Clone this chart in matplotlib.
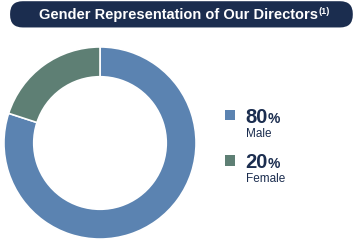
import matplotlib.pyplot as plt
from matplotlib.patches import FancyBboxPatch

labels = ["Male", "Female"]
values = [80, 20]
colors = ["#5b83b1", "#5e7f74"]
navy = "#1b2d4f"

fig = plt.figure(figsize=(3.6, 2.43), dpi=100)

# title bar
bar = FancyBboxPatch((0.028, 0.887), 0.952, 0.108, boxstyle="round,pad=0,rounding_size=0.035",
                     transform=fig.transFigure, facecolor=navy, edgecolor="none", mutation_aspect=1.48)
fig.patches.append(bar)
t = fig.text(0.108, 1 - 19 / 243, "Gender Representation of Our Directors", color="white",
             fontsize=10.5, fontweight="bold", ha="left", va="baseline", family="Liberation Sans")
fig.canvas.draw()
bb = t.get_window_extent()
fig.text(bb.x1 / 360 + 0.0005, 1 - 14 / 243, "(1)", color="white", fontsize=6.5, fontweight="bold",
         ha="left", va="baseline", family="Liberation Sans")

# donut
ax = fig.add_axes([3 / 360, 3 / 243, 194 / 360, 194 / 243])
ax.pie(values, colors=colors, startangle=90, counterclock=False,
       wedgeprops=dict(width=0.31, edgecolor="white", linewidth=1.2))
ax.set_xlim(-1.01, 1.01)
ax.set_ylim(-1.01, 1.01)
ax.set_aspect("equal")

# legend
ys = [1 - 115 / 243, 1 - 160.5 / 243]
for i in range(len(labels)):
    fig.patches.append(plt.Rectangle((0.625, ys[i] - 0.021), 0.028, 0.042, transform=fig.transFigure,
                                     facecolor=colors[i], edgecolor="none"))
    num = fig.text(0.681, ys[i] - 0.031, str(values[i]), color=navy, fontsize=14.5, fontweight="bold",
                   va="baseline", ha="left", family="Liberation Sans")
    fig.canvas.draw()
    nb = num.get_window_extent()
    fig.text(nb.x1 / 360 + 0.0015, ys[i] - 0.031, "%", color=navy, fontsize=10, fontweight="bold",
             va="baseline", ha="left", family="Liberation Sans")
    fig.text(0.683, ys[i] - 0.09, labels[i], color=navy, fontsize=8.5,
             va="baseline", ha="left", family="Liberation Sans")

fig.savefig("out.png", dpi=100)
